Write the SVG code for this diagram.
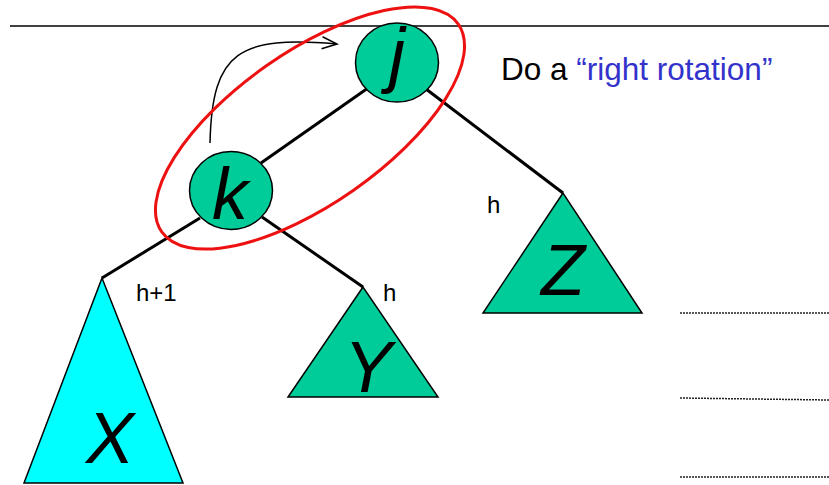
<svg xmlns="http://www.w3.org/2000/svg" width="829" height="485" viewBox="0 0 829 485">
<defs>
<style>
.node{fill:#00CC99;stroke:#000;stroke-width:1.5}
.edge{stroke:#000;stroke-width:3;fill:none}
.big{font-family:"Liberation Sans",Arial,sans-serif;font-style:italic;font-size:72px;fill:#000;text-anchor:middle}
.lbl{font-family:"Liberation Sans",Arial,sans-serif;font-size:24px;fill:#000}
.dot{stroke:#222;stroke-width:1.5;stroke-dasharray:2 1;fill:none}
</style>
<marker id="open" markerWidth="20" markerHeight="20" refX="16" refY="7" orient="auto" markerUnits="userSpaceOnUse">
<path d="M1,1 L16,7 L1,13" fill="none" stroke="#000" stroke-width="1.5"/>
</marker>
</defs>
<rect width="829" height="485" fill="#fff"/>
<line x1="10" y1="26" x2="829" y2="26" stroke="#000" stroke-width="1.5"/>
<g id="connectors">
<line class="edge" x1="368" y1="88" x2="261" y2="163"/>
<line class="edge" x1="426" y1="89" x2="563" y2="193"/>
<line class="edge" x1="200" y1="218" x2="102" y2="278"/>
<line class="edge" x1="262" y1="217" x2="363" y2="287"/>
<path d="M210,143 C212,50 240,36 337,44" fill="none" stroke="#000" stroke-width="1.5" marker-end="url(#open)"/>
</g>
<g id="X">
<polygon points="102,278 24,483 183,483" fill="#00FFFF" stroke="#000" stroke-width="1.5"/>
<text class="big" x="110" y="463">X</text>
</g>
<g id="Y">
<polygon class="node" points="363,287 288,397 438,397"/>
<text class="big" x="368" y="392">Y</text>
</g>
<g id="Z">
<polygon class="node" points="563,193 483,313 642,313"/>
<text class="big" x="563" y="295">Z</text>
</g>
<g id="k">
<ellipse class="node" cx="231" cy="190.5" rx="41.5" ry="39"/>
<text class="big" x="230" y="219">k</text>
</g>
<g id="j">
<ellipse class="node" cx="397" cy="62.5" rx="41.5" ry="39.5"/>
<text class="big" x="397" y="79">j</text>
</g>
<ellipse cx="310" cy="128" rx="181" ry="76" transform="rotate(-35 310 128)" fill="none" stroke="#EE1111" stroke-width="3"/>
<text class="lbl" x="136" y="301">h+1</text>
<text class="lbl" x="383" y="301">h</text>
<text class="lbl" x="487" y="213">h</text>
<text x="501" y="80" font-family="'Liberation Sans',Arial,sans-serif" font-size="31.5" fill="#000">Do a <tspan fill="#3333CC">“right rotation”</tspan></text>
<line class="dot" x1="680" y1="313" x2="829" y2="313"/>
<line class="dot" x1="680" y1="398" x2="829" y2="400"/>
<line class="dot" x1="680" y1="477" x2="829" y2="477"/>
</svg>
